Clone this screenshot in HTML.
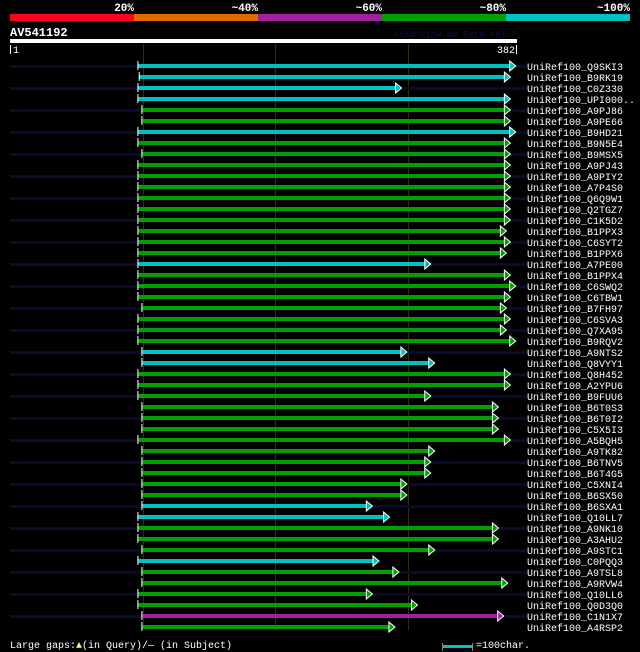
<!DOCTYPE html>
<html><head><meta charset="utf-8"><style>
html,body{margin:0;padding:0;background:#000;}
#wrap{position:relative;width:640px;height:652px;overflow:hidden;background:#000;font-family:"Liberation Mono",monospace;}
svg text{font-family:"Liberation Mono",monospace;}
</style></head><body>
<div id="wrap">
<svg id="chart" width="640" height="652" xmlns="http://www.w3.org/2000/svg">
  <g>
    <rect x="10" y="14" width="124" height="7" fill="#ff0020"/>
    <rect x="134" y="14" width="124" height="7" fill="#e06a00"/>
    <rect x="258" y="14" width="124" height="7" fill="#a020a0"/>
    <rect x="382" y="14" width="124" height="7" fill="#00a000"/>
    <rect x="506" y="14" width="124" height="7" fill="#00c0c0"/>
    <g font-size="11" font-weight="bold" fill="#fff" text-anchor="end">
      <text x="134" y="11">20%</text>
      <text x="258" y="11">~40%</text>
      <text x="382" y="11">~60%</text>
      <text x="506" y="11">~80%</text>
      <text x="630" y="11">~100%</text>
    </g>
  </g>
  <text x="10" y="36" font-size="12" font-weight="bold" fill="#fff">AV541192</text>
  <text x="517" y="37" font-size="9" fill="#101040" text-anchor="end">AlignView.pm Beta rel.7</text>
  <rect x="10" y="39" width="507" height="4" fill="#fff"/>
  <rect x="10" y="45" width="1" height="9" fill="#fff"/>
  <text x="13" y="53" font-size="10" fill="#fff">1</text>
  <rect x="516" y="45" width="1" height="9" fill="#fff"/>
  <text x="515" y="53" font-size="10" fill="#fff" text-anchor="end">382</text>
  <g id="grid"></g>
  <g id="rows"></g>
  <text x="10" y="648" font-size="10" fill="#fff">Large gaps:<tspan fill="#ffff60">▲</tspan>(in Query)/— (in Subject)</text>
  <g>
    <rect x="442" y="643" width="1" height="8" fill="#888"/>
    <rect x="472" y="643" width="1" height="8" fill="#888"/>
    <rect x="443" y="645" width="29" height="3" fill="#00c0c0"/>
    <text x="476" y="648" font-size="10" fill="#fff">=100char.</text>
  </g>
</svg>
</div>
<script>
const names = ["Q9SKI3","B9RK19","C0Z330","UPI000..","A9PJ86","A9PE66","B9HD21","B9N5E4","B9MSX5","A9PJ43","A9PIY2","A7P4S0","Q6Q9W1","Q2TGZ7","C1K5D2","B1PPX3","C6SYT2","B1PPX6","A7PE00","B1PPX4","C6SWQ2","C6TBW1","B7FH97","C6SVA3","Q7XA95","B9RQV2","A9NTS2","Q8VYY1","Q8H452","A2YPU6","B9FUU6","B6T0S3","B6T0I2","C5X5I3","A5BQH5","A9TK82","B6TNV5","B6T4G5","C5XNI4","B6SX50","B6SXA1","Q10LL7","A9NK10","A3AHU2","A9STC1","C0PQQ3","A9TSL8","A9RVW4","Q10LL6","Q0D3Q0","C1N1X7","A4RSP2"];
const qStart = [96,97,96,96,99,99,96,96,99,96,96,96,96,96,96,96,96,96,96,96,96,96,99,96,96,96,99,99,96,96,96,99,99,99,96,99,99,99,99,99,99,96,96,96,99,96,99,99,96,96,99,99];
const qEnd = [381,377,295,377,377,377,381,377,377,377,377,377,377,377,377,374,377,374,317,377,381,377,374,377,374,381,299,320,377,377,317,368,368,368,377,320,317,317,299,299,273,286,368,368,320,278,293,375,273,307,372,290];
const identity = ["100","100","100","100","80","80","100","80","80","80","80","80","80","80","80","80","80","80","100","80","80","80","80","80","80","80","100","100","80","80","80","80","80","80","80","80","80","80","80","80","100","100","80","80","80","100","80","80","80","80","60","80"];
const subjectExtends = [1,0,1,0,1,0,1,0,1,0,1,0,1,0,1,0,1,0,1,0,1,0,1,0,1,0,1,0,1,0,1,0,1,0,1,0,1,0,1,0,1,0,1,0,1,0,1,0,1,0,1,0];
const gridTicks = [100,200,300];

const colorOf = {"100":"#00c0c0","80":"#00a000","60":"#a020a0"};
const xScale = q => 10 + q * (507/382);
const yRow = i => 66 + i * 11;
const NS = "http://www.w3.org/2000/svg";
const grid = document.getElementById("grid");
gridTicks.forEach(t => {
  const l = document.createElementNS(NS,"rect");
  l.setAttribute("x", Math.round(xScale(t)));
  l.setAttribute("y", 44);
  l.setAttribute("width", 1);
  l.setAttribute("height", 586);
  l.setAttribute("fill", "#2e2e10");
  
  
  grid.appendChild(l);
});
const rows = document.getElementById("rows");
names.forEach((n,i) => {
  const g = document.createElementNS(NS,"g");
  
  
  const y = yRow(i);
  if (subjectExtends[i]) {
    const d = document.createElementNS(NS,"rect");
    d.setAttribute("x",10); d.setAttribute("y",y-1); d.setAttribute("width",517); d.setAttribute("height",3);
    d.setAttribute("fill","#0a0a30");
    
    
    g.appendChild(d);
  }
  const x0 = xScale(qStart[i]), x1 = xScale(qEnd[i]);
  const c = colorOf[identity[i]];
  const b = document.createElementNS(NS,"rect");
  b.setAttribute("x",x0); b.setAttribute("y",y-2); b.setAttribute("width",x1-6-x0); b.setAttribute("height",4);
  b.setAttribute("fill",c);
  
  
  g.appendChild(b);
  const t = document.createElementNS(NS,"rect");
  t.setAttribute("x",x0); t.setAttribute("y",y-5); t.setAttribute("width",1); t.setAttribute("height",9);
  t.setAttribute("fill","#fff");
  
  
  g.appendChild(t);
  const a = document.createElementNS(NS,"polygon");
  a.setAttribute("points",`${x1-6},${y-5} ${x1},${y} ${x1-6},${y+5}`);
  a.setAttribute("fill",c); a.setAttribute("stroke","#fff"); a.setAttribute("stroke-width","1");
  
  
  g.appendChild(a);
  const tx = document.createElementNS(NS,"text");
  tx.setAttribute("x",527); tx.setAttribute("y",y+4); tx.setAttribute("font-size","10"); tx.setAttribute("fill","#fff");
  tx.textContent = "UniRef100_" + n;
  
  
  g.appendChild(tx);
  rows.appendChild(g);
});
</script>
</body></html>
